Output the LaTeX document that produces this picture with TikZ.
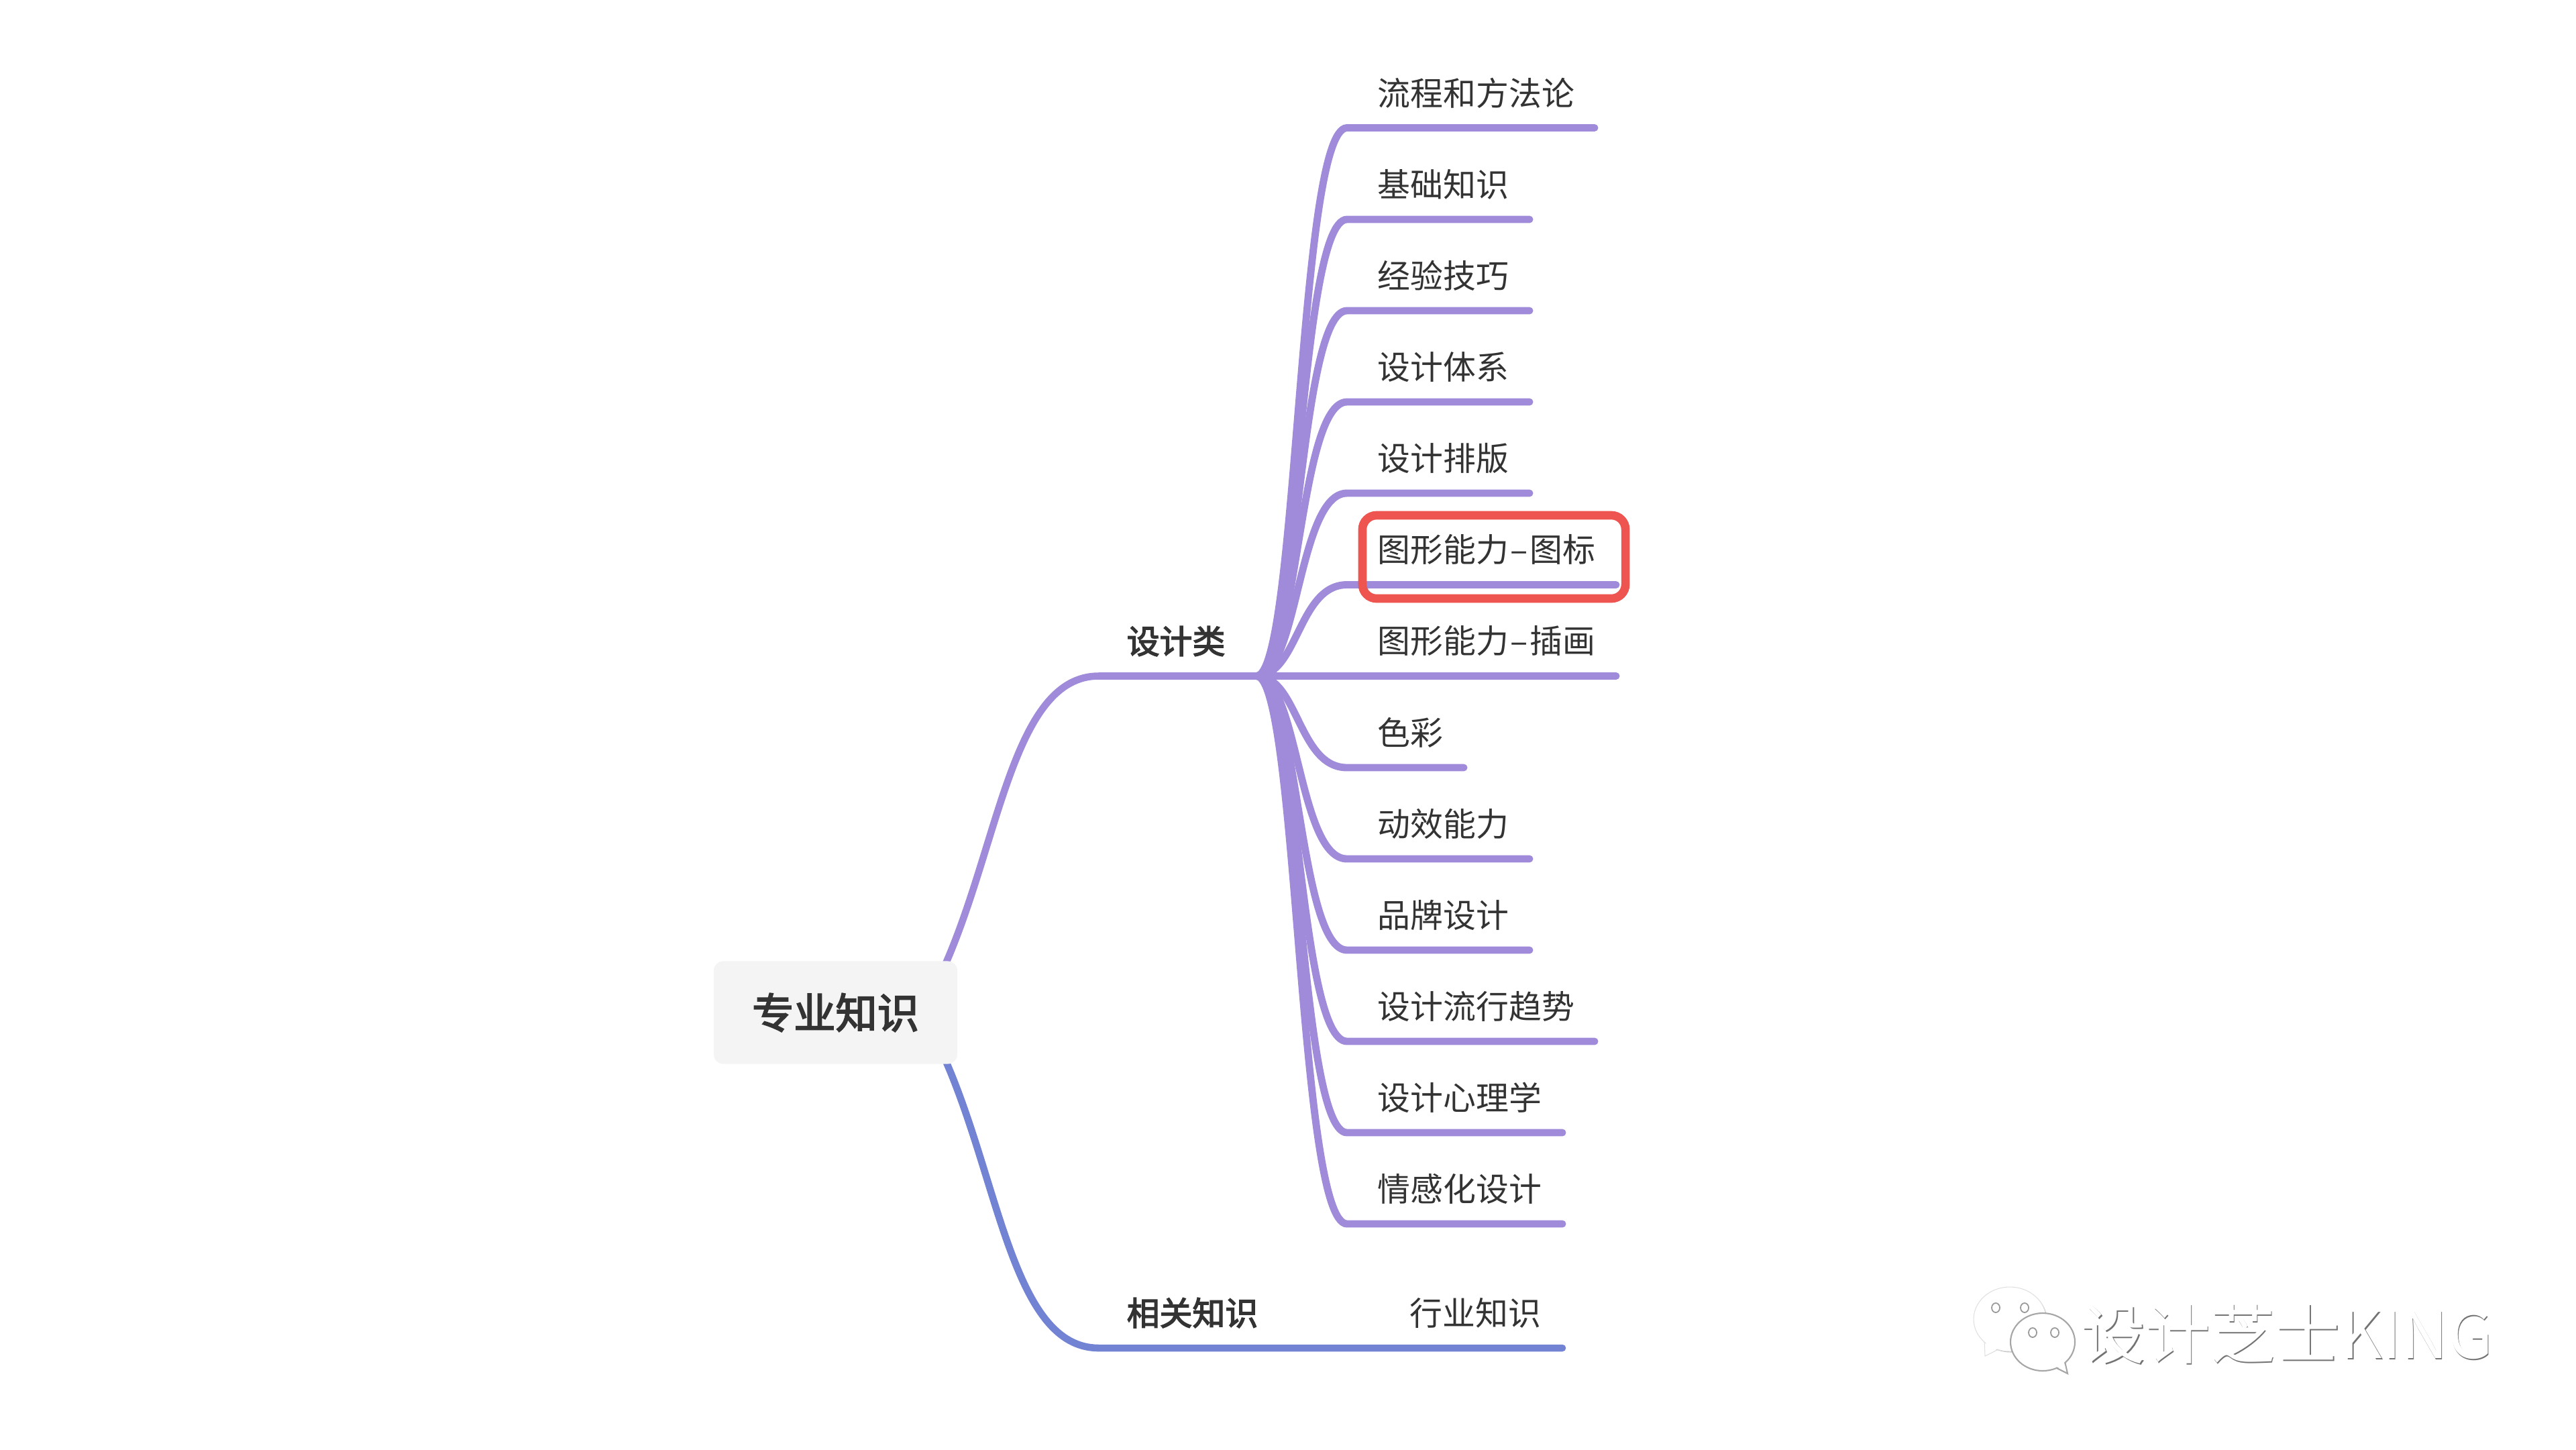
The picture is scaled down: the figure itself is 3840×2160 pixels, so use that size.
\documentclass[tikz,border=0pt]{standalone}
\usepackage{fontspec}
\setmainfont{Noto Sans CJK SC}
\newfontfamily\medcjk[FakeBold=3]{Noto Sans CJK SC}
\usetikzlibrary{calc}
\definecolor{lilac}{HTML}{9F8BD9}
\definecolor{bluev}{HTML}{7383D4}
\definecolor{inkc}{HTML}{333333}
\definecolor{redbox}{HTML}{EE5550}
\definecolor{rootbg}{HTML}{F4F4F4}
\tikzset{
 wire/.style={line width=3.1pt,lilac,line cap=round},
 leaf/.style={anchor=west,inner sep=0pt,text=inkc,font=\fontsize{13.9}{14}\selectfont},
 mainlab/.style={anchor=west,inner sep=0pt,text=inkc,font=\fontsize{13.9}{14}\medcjk},
 rootbox/.style={fill=rootbg,rounded corners=4pt,minimum width=363*0.2845pt,minimum height=153*0.2845pt,inner sep=0pt,text=inkc,font=\fontsize{17.7}{18}\medcjk},
 mark box/.style={draw=redbox,line width=3.6pt,rounded corners=6pt},
 wm/.style={anchor=west,inner sep=0pt,font=\fontsize{27.5}{28}\selectfont},
 bub/.style={fill=white,draw=black!12,line width=.3pt},
}
\newcommand{\dashk}{\kern.7pt–\kern.7pt}
\begin{document}
\begin{tikzpicture}[x=0.01cm,y=-0.01cm]
\useasboundingbox (0,0) rectangle (3840,2160);
% hubs
\coordinate (fork) at (1873,1007.5);
\coordinate (rootup) at (1408,1440);
\coordinate (rootdn) at (1408,1577);
\coordinate (mainA) at (1638,1007.5);
\coordinate (mainB) at (1638,2009);
\coordinate (endB) at (2329,2009);
% main wires
\draw[wire,line width=3pt] (rootup) .. controls +(82,-185) and +(-128,0) .. (mainA) -- (fork);
\draw[wire,bluev,line width=3pt] (rootdn) .. controls +(82,185) and +(-128,0) .. (mainB) -- (endB);
% leaf wires and labels
\foreach \n/\yy/\xe/\t in {
 a/190.5/2377/流程和方法论,
 b/327/2280/基础知识,
 c/463/2280/经验技巧,
 d/599/2280/设计体系,
 e/735/2280/设计排版,
 f/871.5/2409/图形能力\dashk 图标,
 g/1007.5/2409/图形能力\dashk 插画,
 h/1144/2182/色彩,
 i/1280/2280/动效能力,
 j/1416/2280/品牌设计,
 k/1552/2377/设计流行趋势,
 l/1688/2329/设计心理学,
 m/1824/2329/情感化设计}{
  \coordinate (\n s) at (2008,\yy);
  \coordinate (\n e) at (\xe,\yy);
  \draw[wire] (fork) .. controls +(62,0) and +(-73,0) .. (\n s) -- (\n e);
  \node[leaf] (\n t) at (2053,\yy-52) {\t};
}
% root
\node[rootbox] (root) at (1245.5,1509) {专业知识};
% main labels
\node[mainlab] (lab1) at (1679,955.5) {设计类};
\node[mainlab] (lab2) at (1679,1956.5) {相关知识};
\node[leaf] (lab3) at (2101,1956.5) {行业知识};
% highlight
\node[mark box,minimum width=392*0.2845pt,minimum height=124*0.2845pt,inner sep=0pt] (mark) at (2227,830) {};
% watermark
\draw[bub] (2958,1995) -- (2959,2021) -- (2985,2008) -- cycle;
\fill[black!25] (2997.5,1967.5) ellipse (54 and 48);
\draw[bub] (2996,1966) ellipse (54 and 48);
\fill[white] (2960,1990) -- (2961,2019) -- (2985,2006) -- cycle;
\draw[bub,draw=black!35,line width=.6pt] (3077,2025) -- (3082,2047) -- (3060,2036) -- cycle;
\draw[bub,draw=black!35,line width=.6pt] (3045,2000) ellipse (48 and 43);
\fill[white] (3075,2022) -- (3080,2044) -- (3060,2034) -- cycle;
\foreach \ex/\ey in {2975/1949,3018/1949,3030/1986,3063/1986}
  \draw[black!40,line width=.5pt,fill=white] (\ex,\ey) ellipse (6 and 7);
\node[wm,text=black!55] (wmshadow) at (3102.5,1989.5) {设计芝士KING};
\node[wm,text=white] (wmtext) at (3101,1988) {设计芝士KING};
\end{tikzpicture}
\end{document}
